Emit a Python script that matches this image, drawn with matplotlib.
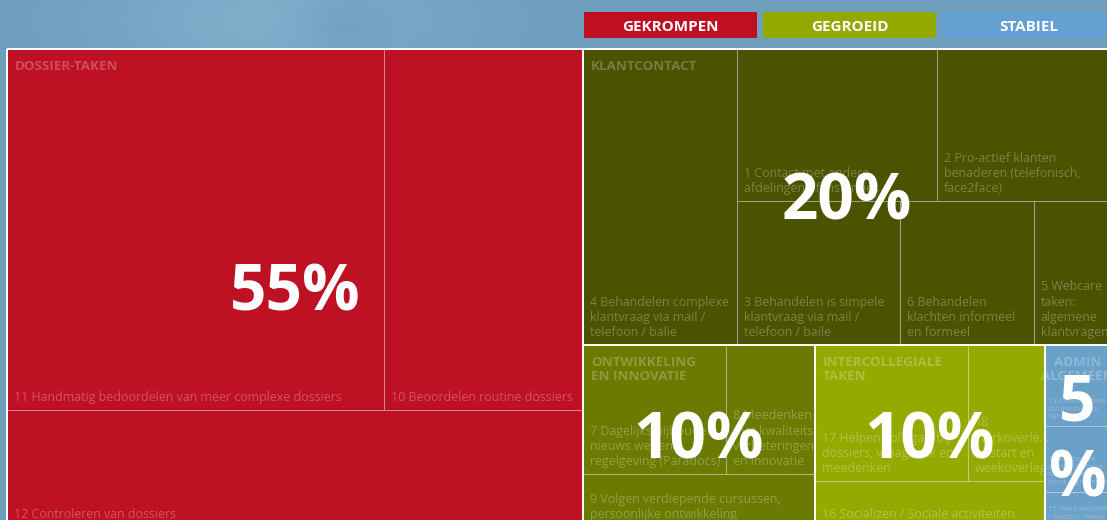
import numpy as np
import matplotlib
matplotlib.use("Agg")
import matplotlib.pyplot as plt
from matplotlib.patches import Rectangle
from matplotlib.font_manager import FontProperties

plt.rcParams['font.family'] = ['Open Sans', 'DejaVu Sans']

# ---------------- data ----------------
group_keys = ["G0", "G1", "G2", "G3", "G4"]
group_names = ["DOSSIER-TAKEN", "KLANTCONTACT", "ONTWIKKELING\nEN INNOVATIE",
               "INTERCOLLEGIALE\nTAKEN", "ADMIN\nALGEMEEN"]
group_pct = [55, 20, 10, 10, 5]

legend_labels = ["GEKROMPEN", "GEGROEID", "STABIEL"]

task_ids = [11, 10, 12, 4, 1, 2, 3, 6, 5, 7, 8, 9, 17, 18, 16, 13, 14, 15]
task_group = [0, 0, 0, 1, 1, 1, 1, 1, 1, 2, 2, 2, 3, 3, 3, 4, 4, 4]
task_labels = [
    "11 Handmatig bedoordelen van meer complexe dossiers",
    "10 Beoordelen routine dossiers",
    "12 Controleren van dossiers",
    "4 Behandelen complexe\nklantvraag via mail /\ntelefoon / balie",
    "1 Contact met andere\nafdelingen of instanties",
    "2 Pro-actief klanten\nbenaderen (telefonisch,\nface2face)",
    "3 Behandelen is simpele\nklantvraag via mail /\ntelefoon / baile",
    "6 Behandelen\nklachten informeel\nen formeel",
    "5 Webcare\ntaken:\nalgemene\nklantvragen",
    "7 Dagelijks bijhouden\nnieuws wet en\nregelgeving (Paradocs)",
    "8 Meedenken\nmet kwaliteits-\nverbeteringen\nen innovatie",
    "9 Volgen verdiepende cursussen,\npersoonlijke ontwikkeling",
    "17 Helpen collega's bij\ndossiers, vraagbaak en\nmeedenken",
    "18\nWerkoverle...\nopstart en\nweekoverleg",
    "16 Socializen / Sociale activiteiten",
    "13 Interne mails\ncommunicatie\nbijhouden",
    "14 Allehande\nadministratieve\ntaken uitvoeren\n(post registreren)",
    "15 Werkverdeler\n/ Rooster maker",
]
task_values = [25.8, 13.6, 12.8, 8.65, 5.77, 4.99, 4.45, 3.66, 2.08,
               3.50, 2.18, 2.33, 3.95, 1.99, 2.01, 1.00, 0.81, 0.43]

# ---------------- styles / layout ----------------
group_colors = ["#BE1224", "#4B5200", "#6B7A00", "#94AA00", "#6BA0C9"]
legend_colors = ["#BE1020", "#94A900", "#64A0D2"]

top_layout = ("h", ["G0", ("v", ["G1", ("h", ["G2", "G3", "G4"])])])
group_layout = {
    "G0": ("v", [("h", [11, 10]), 12]),
    "G1": ("h", [4, ("v", [("h", [1, 2]), ("h", [3, 6, 5])])]),
    "G2": ("v", [("h", [7, 8]), 9]),
    "G3": ("v", [("h", [17, 18]), 16]),
    "G4": ("v", [13, 14, 15]),
}

W_FIG, H_FIG = 1107, 520
TX, TY, TW, TH = 7, 49, 1103, 478   # treemap frame (extends past the crop)

val_of = dict(zip(task_ids, task_values))


def node_value(node):
    if isinstance(node, tuple):
        return sum(node_value(c) for c in node[1])
    if isinstance(node, str):
        return node_value(group_layout[node])
    return val_of[node]


leaf_rects, group_rects = {}, {}


def place(node, x, y, w, h):
    if isinstance(node, tuple):
        d, kids = node
        tot = sum(node_value(k) for k in kids)
        pos = 0.0
        for k in kids:
            f = node_value(k) / tot
            if d == "h":
                place(k, x + pos, y, w * f, h)
                pos += w * f
            else:
                place(k, x, y + pos, w, h * f)
                pos += h * f
    elif isinstance(node, str):
        group_rects[node] = (x, y, w, h)
        place(group_layout[node], x, y, w, h)
    else:
        leaf_rects[node] = (x, y, w, h)


place(top_layout, TX, TY, TW, TH)

fig = plt.figure(figsize=(W_FIG / 100, H_FIG / 100), dpi=100)
ax = fig.add_axes([0, 0, 1, 1])
ax.axis('off')

# background
yy, xx = np.mgrid[0:H_FIG, 0:W_FIG]
bg = np.ones((H_FIG, W_FIG, 3)) * (np.array([111, 159, 189]) / 255)
blob = np.exp(-(((xx - 280) / 170) ** 2 + ((yy - 20) / 70) ** 2))
bg += blob[..., None] * (np.array([16, 16, 14]) / 255)
dark = np.exp(-(((xx - 340) / 50) ** 2 + ((yy - 25) / 30) ** 2))
bg -= dark[..., None] * (np.array([10, 10, 8]) / 255)
ax.imshow(np.clip(bg, 0, 1), extent=(0, W_FIG, H_FIG, 0), zorder=0, aspect='auto')
ax.set_xlim(0, W_FIG)
ax.set_ylim(H_FIG, 0)

PX = 0.72  # points per pixel
renderer = fig.canvas.get_renderer()

fp_leaf = FontProperties(family=['Open Sans', 'DejaVu Sans'], size=8.9)
fp_small = FontProperties(family=['Open Sans', 'DejaVu Sans'], size=5.6)
fp_big = FontProperties(family=['Open Sans', 'DejaVu Sans'], size=46, weight='bold')


def tw(s, fp):
    return renderer.get_text_width_height_descent(s, fp, ismath=False)[0]


# leaves
leaf_edge = (1, 1, 1, 0.32)
label_col = (1, 1, 1, 0.28)
for tid, lab, g in zip(task_ids, task_labels, task_group):
    x, y, w, h = leaf_rects[tid]
    cell = Rectangle((x, y), w, h, facecolor=group_colors[g],
                     edgecolor=leaf_edge, lw=1.0 * PX, zorder=2)
    ax.add_patch(cell)
    small = w < 70
    fp = fp_small if small else fp_leaf
    t = ax.text(x + (3 if small else 7), y + h - 6, lab,
                fontproperties=fp, color=label_col, ha='left', va='bottom',
                linespacing=1.22 if not small else 1.15, zorder=4)
    clip = Rectangle((x + 1, y + 1), w - 2, h - 2, transform=ax.transData,
                     facecolor='none', edgecolor='none')
    t.set_clip_path(clip)

# groups
for gi, key in enumerate(group_keys):
    x, y, w, h = group_rects[key]
    ax.add_patch(Rectangle((x, y), w, h, facecolor='none', edgecolor='white',
                           lw=1.6 * PX, zorder=3))
    if w < 100:
        ax.text(x + w / 2, y + 10.5, group_names[gi], fontsize=9.6, fontweight='bold',
                color=(1, 1, 1, 0.25), ha='center', va='top', multialignment='center',
                linespacing=1.18, zorder=4)
    else:
        ax.text(x + 8, y + 10.5, group_names[gi], fontsize=9.6, fontweight='bold',
                color=(1, 1, 1, 0.25), ha='left', va='top', linespacing=1.18, zorder=4)

ax.add_patch(Rectangle((TX, TY), TW, TH, facecolor='none', edgecolor='white',
                       lw=1.6 * PX, zorder=3))

# big percentages at the group centres
cap = 46 / PX * 0.714
for gi, key in enumerate(group_keys):
    x, y, w, h = group_rects[key]
    cx, cy = x + w / 2, y + h / 2
    s = f"{group_pct[gi]}%"
    if tw(s, fp_big) > w - 6:
        parts = [f"{group_pct[gi]}", "%"]
        gap = 76
        for k, p in enumerate(parts):
            yc = cy + (k - 0.5) * gap
            ax.text(cx, yc + cap / 2, p, fontproperties=fp_big, color='white',
                    ha='center', va='baseline', zorder=6)
    else:
        ax.text(cx, cy + cap / 2, s, fontproperties=fp_big, color='white',
                ha='center', va='baseline', zorder=6)

# legend boxes
lx, ly, lw_, lh, lgap = 584, 12, 173, 26, 6
for i, (lab, col) in enumerate(zip(legend_labels, legend_colors)):
    bx = lx + i * (lw_ + lgap)
    ax.add_patch(Rectangle((bx, ly), lw_, lh, facecolor=col, edgecolor='none', zorder=5))
    ax.text(bx + lw_ / 2, ly + lh / 2 + 6, lab, fontsize=11, fontweight='bold',
            color='white', ha='center', va='baseline', zorder=6)

fig.savefig("out.png", dpi=100)
